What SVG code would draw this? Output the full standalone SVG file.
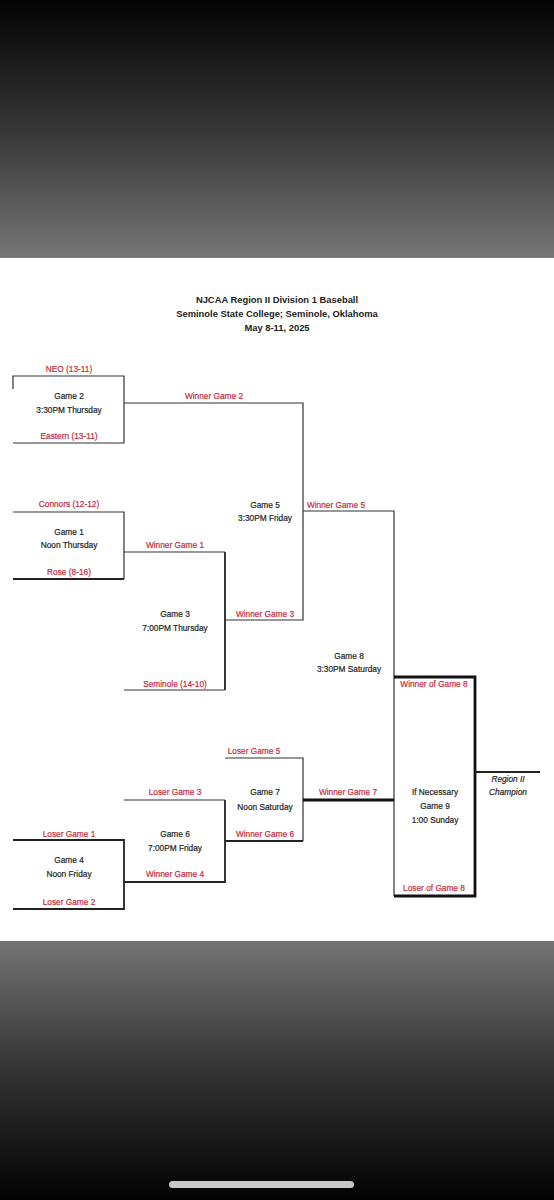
<svg xmlns="http://www.w3.org/2000/svg" width="554" height="1200" viewBox="0 0 554 1200">
<defs>
<linearGradient id="gTop" x1="0" y1="0" x2="0" y2="1">
<stop offset="0" stop-color="#030303"/>
<stop offset="0.5" stop-color="#363636"/>
<stop offset="1" stop-color="#767676"/>
</linearGradient>
<linearGradient id="gBot" x1="0" y1="0" x2="0" y2="1">
<stop offset="0" stop-color="#737373"/>
<stop offset="0.5" stop-color="#333333"/>
<stop offset="1" stop-color="#020202"/>
</linearGradient>
<style>
.t{font-family:"Liberation Sans",Arial,sans-serif;font-size:8.3px;fill:#1e1e1e;stroke:#1e1e1e;stroke-width:0.2;text-anchor:middle}
.r{font-family:"Liberation Sans",Arial,sans-serif;font-size:8.3px;fill:#c62a3c;stroke:#c62a3c;stroke-width:0.2;text-anchor:middle}
.h{font-family:"Liberation Sans",Arial,sans-serif;font-size:9.4px;font-weight:bold;fill:#222;text-anchor:middle}
.i{font-style:italic}
.l1{stroke:#333;stroke-width:1.2;fill:none}
.l2{stroke:#222;stroke-width:1.8;fill:none}
.l3{stroke:#111;stroke-width:2.8;fill:none}
</style>
</defs>
<rect x="0" y="0" width="554" height="258" fill="url(#gTop)"/>
<rect x="0" y="257" width="554" height="1.5" fill="#7a7a7a"/>
<rect x="0" y="258" width="554" height="683" fill="#ffffff"/>
<rect x="0" y="941" width="554" height="259" fill="url(#gBot)"/>
<rect x="169" y="1181" width="185" height="7" rx="3.5" fill="#c8c8c8"/>

<g id="title">
<text class="h" x="277" y="303">NJCAA Region II Division 1 Baseball</text>
<text class="h" x="277" y="317">Seminole State College; Seminole, Oklahoma</text>
<text class="h" x="277" y="331">May 8-11, 2025</text>
</g>

<g id="connectors">
<path class="l1" d="M13 389V376H124V443H13"/>
<path class="l1" d="M124 403H303V620H225"/>
<path class="l1" d="M13 512H124V579"/>
<path class="l2" d="M13 579H124"/>
<path class="l1" d="M124 552H225"/>
<path class="l2" d="M225 552V690"/>
<path class="l1" d="M124 690H225"/>
<path class="l1" d="M303 511H394V800"/>
<path class="l1" d="M394 800V896"/>
<path class="l3" d="M394 677H475V896H394"/>
<path class="l2" d="M475 772H540"/>
<path class="l1" d="M225 758H303V841"/>
<path class="l2" d="M303 841H225"/>
<path class="l3" d="M303 800H394"/>
<path class="l1" d="M124 800H225"/>
<path class="l2" d="M225 800V882H124"/>
<path class="l2" d="M13 840H124V909H13"/>
</g>

<g id="game2">
<text class="r" x="69" y="372">NEO (13-11)</text>
<text class="t" x="69" y="399">Game 2</text>
<text class="t" x="69" y="413">3:30PM Thursday</text>
<text class="r" x="69" y="439">Eastern (13-11)</text>
<text class="r" x="214" y="399">Winner Game 2</text>
</g>

<g id="game1">
<text class="r" x="69" y="507">Connors (12-12)</text>
<text class="t" x="69" y="535">Game 1</text>
<text class="t" x="69" y="548">Noon Thursday</text>
<text class="r" x="69" y="575">Rose (8-16)</text>
<text class="r" x="175" y="548">Winner Game 1</text>
</g>

<g id="game3">
<text class="t" x="175" y="617">Game 3</text>
<text class="t" x="175" y="631">7:00PM Thursday</text>
<text class="r" x="175" y="687">Seminole (14-10)</text>
<text class="r" x="265" y="617">Winner Game 3</text>
</g>

<g id="game5">
<text class="t" x="265" y="508">Game 5</text>
<text class="t" x="265" y="521">3:30PM Friday</text>
<text class="r" x="336" y="508">Winner Game 5</text>
</g>

<g id="game8">
<text class="t" x="349" y="659">Game 8</text>
<text class="t" x="349" y="672">3:30PM Saturday</text>
<text class="r" x="434" y="687">Winner of Game  8</text>
</g>

<g id="game7">
<text class="r" x="254" y="754">Loser Game 5</text>
<text class="t" x="265" y="795">Game 7</text>
<text class="t" x="265" y="810">Noon Saturday</text>
<text class="r" x="265" y="837">Winner Game 6</text>
<text class="r" x="348" y="795">Winner Game 7</text>
</g>

<g id="game9">
<text class="t" x="435" y="795">If Necessary</text>
<text class="t" x="435" y="809">Game 9</text>
<text class="t" x="435" y="823">1:00 Sunday</text>
<text class="r" x="434" y="891">Loser of Game 8</text>
</g>

<g id="champion">
<text class="t i" x="508" y="782">Region II</text>
<text class="t i" x="508" y="795">Champion</text>
</g>

<g id="game6">
<text class="r" x="175" y="795">Loser Game 3</text>
<text class="t" x="175" y="837">Game 6</text>
<text class="t" x="175" y="851">7:00PM Friday</text>
<text class="r" x="175" y="877">Winner Game 4</text>
</g>

<g id="game4">
<text class="r" x="69" y="837">Loser Game 1</text>
<text class="t" x="69" y="863">Game 4</text>
<text class="t" x="69" y="877">Noon Friday</text>
<text class="r" x="69" y="905">Loser Game 2</text>
</g>
</svg>
